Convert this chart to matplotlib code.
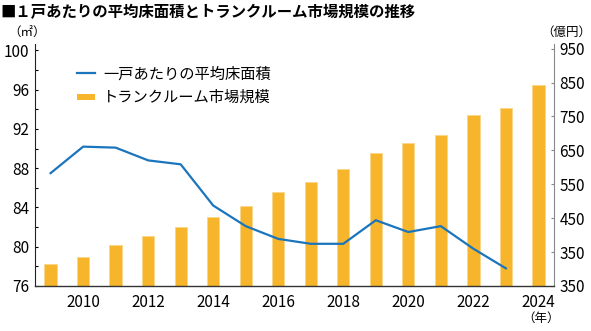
import matplotlib.pyplot as plt
from matplotlib.lines import Line2D

plt.rcParams['font.family'] = ['Noto Sans CJK JP', 'DejaVu Sans']

# data
years = [2009, 2010, 2011, 2012, 2013, 2014, 2015, 2016,
         2017, 2018, 2019, 2020, 2021, 2022, 2023, 2024]
floor_years = years[:-1]
floor_area = [87.5, 90.2, 90.1, 88.8, 88.4, 84.2, 82.1, 80.8,
              80.3, 80.3, 82.7, 81.5, 82.1, 79.8, 77.8]
storage_market = [314, 336, 370, 396, 424, 454, 487, 527,
                  558, 594, 641, 671, 695, 753, 774, 844]

left_ticks = [76, 80, 84, 88, 92, 96, 100]
left_minor = [78, 82, 86, 90, 94, 98]
right_ticks = [250, 350, 450, 550, 650, 750, 850, 950]
right_labels = ['350', '350', '450', '550', '650', '750', '850', '950']  # as printed
x_ticks = [2010, 2012, 2014, 2016, 2018, 2020, 2022, 2024]

line_color = '#1B75BC'
bar_color = '#F7B52C'

W, H = 591, 331
fig = plt.figure(figsize=(W / 100, H / 100), dpi=100)
ax = fig.add_axes([35 / W, 1 - 286 / H, (554 - 35) / W, (286 - 44) / H])
ax2 = ax.twinx()

# bars on the right axis, drawn behind the line
ax2.bar(years, storage_market, width=0.38, color=bar_color,
        edgecolor='#FBD68A', linewidth=0.6)
ax.plot(floor_years, floor_area, color=line_color, lw=1.6)
ax.set_zorder(ax2.get_zorder() + 1)
ax.patch.set_visible(False)

ax.set_xlim(2008.52, 2024.48)
ax.set_ylim(76, 100.66)
ax2.set_ylim(250, 963.6)

ax.set_yticks(left_ticks)
ax.set_yticks(left_minor, minor=True)
ax.set_xticks(x_ticks)
ax2.set_yticks(right_ticks)
ax2.set_yticklabels(right_labels)

ax.tick_params(axis='y', which='major', direction='in', length=2.4,
               width=0.8, labelsize=11, pad=4)
ax.tick_params(axis='y', which='minor', direction='in', length=1.8, width=0.8)
ax.tick_params(axis='x', length=0, labelsize=11, pad=6)
ax2.tick_params(axis='y', direction='in', length=2.2, width=0.8,
                colors='#888888', labelcolor='black', labelsize=11, pad=4)

for s in ['top', 'right']:
    ax.spines[s].set_visible(False)
for s in ['top', 'left', 'bottom']:
    ax2.spines[s].set_visible(False)
ax.spines['left'].set_color('#222222')
ax.spines['bottom'].set_color('#333333')
ax.spines['bottom'].set_linewidth(1.0)
ax2.spines['right'].set_color('#888888')

handles = [Line2D([], [], color=line_color, lw=1.6),
           Line2D([], [], color=bar_color, lw=4.3, solid_capstyle='butt')]
fig.legend(handles, ['一戸あたりの平均床面積', 'トランクルーム市場規模'],
           loc='upper left', bbox_to_anchor=(65 / W, 1 - 53 / H),
           frameon=False, fontsize=11, handlelength=1.15,
           handletextpad=0.55, labelspacing=0.45, borderpad=0.3)

fig.text(0, 1 - 12 / H, '■１戸あたりの平均床面積とトランクルーム市場規模の推移',
         fontsize=11.1, fontweight='bold', va='center', ha='left')
fig.text(8 / W, 1 - 33 / H, '（㎡）', fontsize=9, va='center', ha='left')
fig.text(591 / W, 1 - 32 / H, '（億円）', fontsize=9, va='center', ha='right')
fig.text(541 / W, 1 - 318 / H, '（年）', fontsize=9, va='center', ha='center')

fig.savefig('out.png', dpi=100)
